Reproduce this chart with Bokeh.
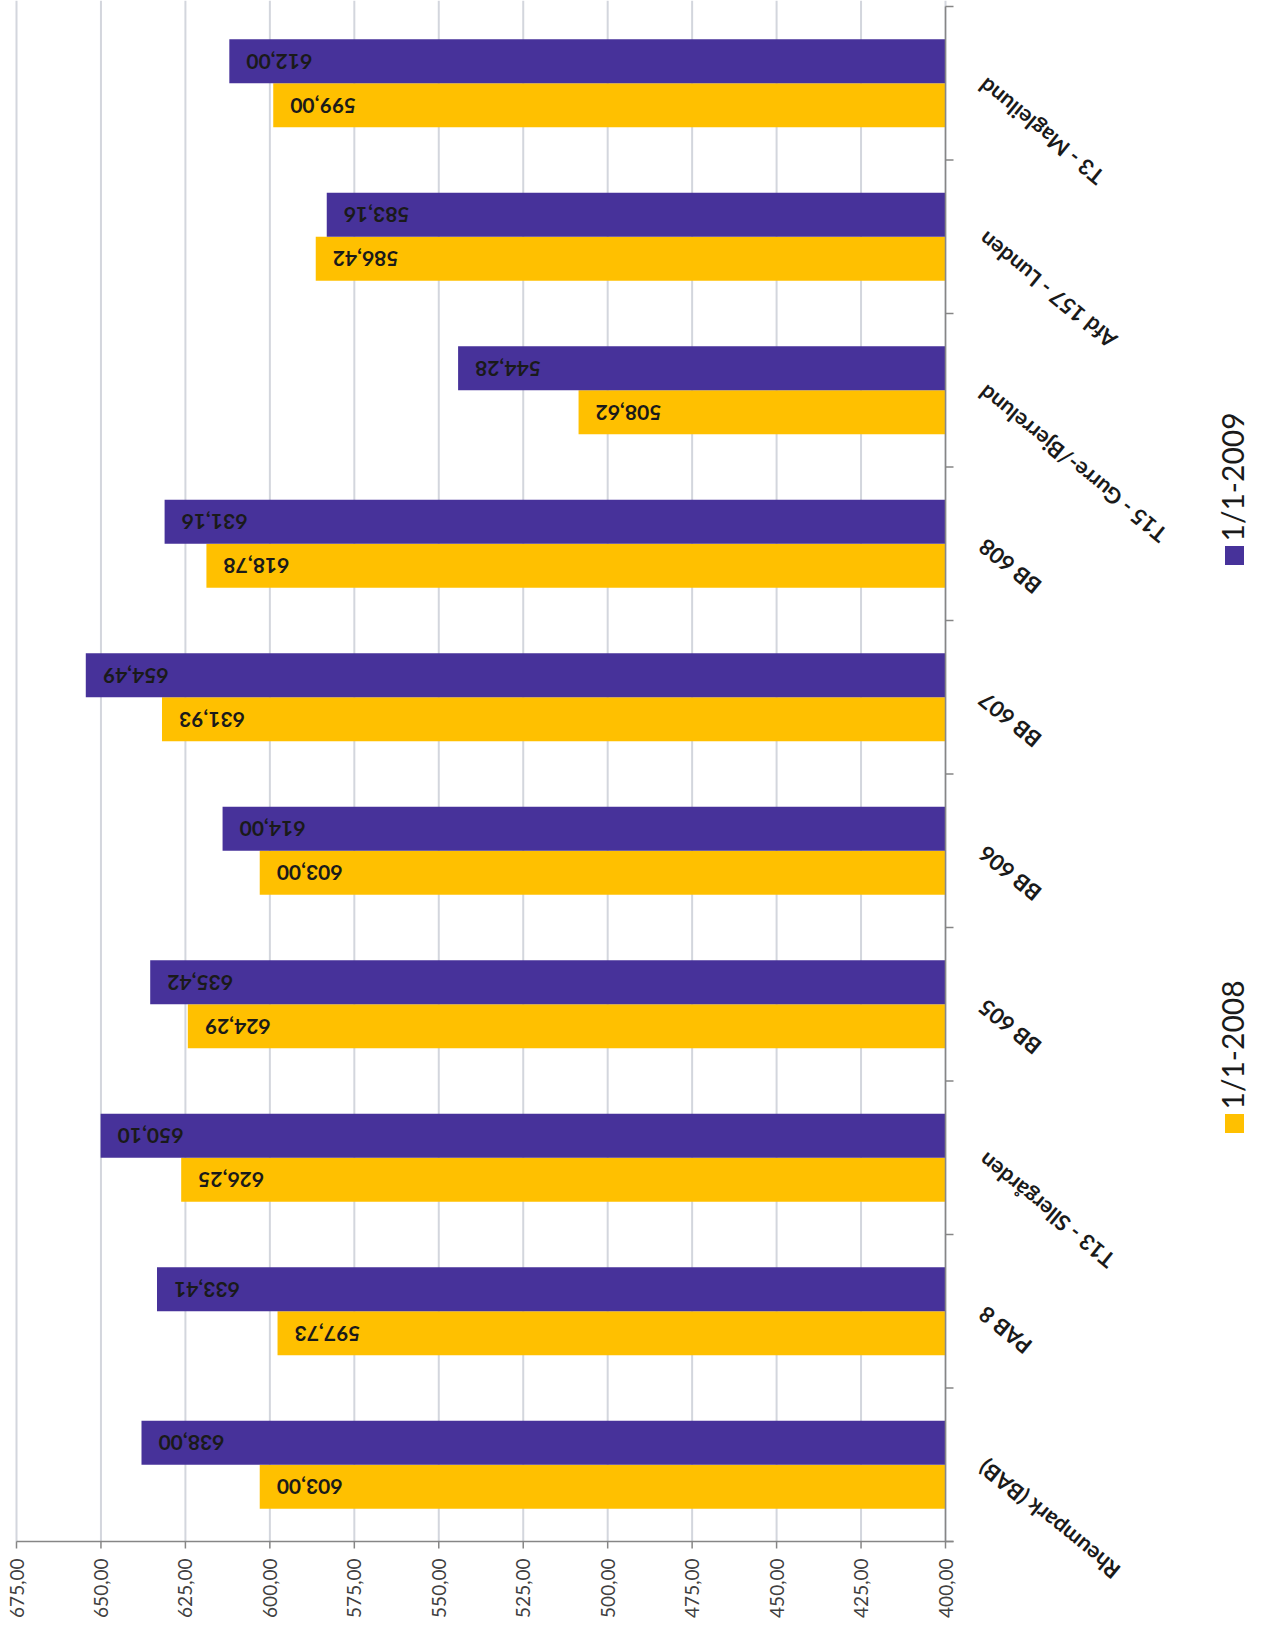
import math
from bokeh.plotting import figure
from bokeh.models import Range1d, ColumnDataSource
from bokeh.core.properties import value
from bokeh.embed import file_html
from bokeh.resources import INLINE

# ---------------- data ----------------
categories = ["Rheumpark (BAB)", "PAB 8", "T13 - Sllergården", "BB 605", "BB 606",
              "BB 607", "BB 608", "T15 - Gurre-/Bjerrelund", "Afd 157 - Lunden",
              "T3 - Magleilund"]
values_2008 = [603.00, 597.73, 626.25, 624.29, 603.00, 631.93, 618.78, 508.62, 586.42, 599.00]
values_2009 = [638.00, 633.41, 650.10, 635.42, 614.00, 654.49, 631.16, 544.28, 583.16, 612.00]
series_names = ["1/1-2008", "1/1-2009"]
x_ticks = [400, 425, 450, 475, 500, 525, 550, 575, 600, 625, 650, 675]
x_tick_labels = ["400,00", "425,00", "450,00", "475,00", "500,00", "525,00",
                 "550,00", "575,00", "600,00", "625,00", "650,00", "675,00"]

# ---------------- layout constants ----------------
COL_2008 = "#ffc000"
COL_2009 = "#47329a"
AXIS_COL = "#868686"
GRID_COL = "#d3d6dd"
TEXT_COL = "#1a1a1a"
FONT = "Lato"

W, H = 1250, 1619
PAGE = 8
PX_PER_UNIT = (953 - 24) / 275.0      # horizontal scale (px per value unit)
PX_PER_CAT = 153.5                    # vertical size of one category (px)
AXIS_PX_Y0 = 1549                     # page y of category-axis bottom

def px_to_x(px):
    return 675 - (px - 24) / PX_PER_UNIT

def px_to_y(py):
    return (AXIS_PX_Y0 - py) / PX_PER_CAT

x_start = px_to_x(PAGE)
x_end = px_to_x(PAGE + W)
y_start = px_to_y(PAGE + H)
y_end = px_to_y(PAGE)

n = len(categories)
centers = [i + 0.5 for i in range(n)]
BAR_H = 0.287
OFF = 0.1435

p = figure(width=W, height=H, x_range=Range1d(x_start, x_end),
           y_range=Range1d(y_start, y_end),
           output_backend="svg", toolbar_location=None,
           x_axis_location=None, y_axis_location=None,
           min_border=0, min_border_left=0, min_border_right=0,
           min_border_top=0, min_border_bottom=0)
p.outline_line_color = None
p.background_fill_color = "white"
p.border_fill_color = "white"
p.grid.visible = False

# vertical gridlines
p.segment(x0=x_ticks, y0=[0] * len(x_ticks), x1=x_ticks, y1=[y_end] * len(x_ticks),
          line_color=GRID_COL, line_width=2)

# bars
src = ColumnDataSource(dict(
    y08=[c - OFF for c in centers], y09=[c + OFF for c in centers],
    v08=values_2008, v09=values_2009,
    l08=[f"{v:.2f}".replace(".", ",") for v in values_2008],
    l09=[f"{v:.2f}".replace(".", ",") for v in values_2009],
))
p.hbar(y="y08", left=400, right="v08", height=BAR_H, source=src,
       fill_color=COL_2008, line_color=None)
p.hbar(y="y09", left=400, right="v09", height=BAR_H, source=src,
       fill_color=COL_2009, line_color=None)

for xcol, ycol, lcol in [("v08", "y08", "l08"), ("v09", "y09", "l09")]:
    p.text(x=xcol, y=ycol, text=lcol, source=src, x_offset=17, angle=math.pi,
           text_align="right", text_baseline="middle", text_font=value(FONT),
           text_font_style="bold", text_font_size="21px", text_color=TEXT_COL)

# value axis (bottom): line, ticks, rotated labels
tick_out = 7 / PX_PER_CAT
over = 8 / PX_PER_UNIT
p.segment(x0=[675], y0=[0], x1=[400 - over], y1=[0], line_color=AXIS_COL, line_width=1.5)
p.segment(x0=x_ticks, y0=[0] * len(x_ticks), x1=x_ticks, y1=[-tick_out] * len(x_ticks),
          line_color=AXIS_COL, line_width=1.5)
p.text(x=x_ticks, y=[-17 / PX_PER_CAT] * len(x_ticks), text=x_tick_labels,
       angle=math.pi / 2, text_align="right", text_baseline="middle",
       text_font=value(FONT), text_font_size="19px", text_color="#404040")

# category axis (at value 400): line, ticks between categories, rotated labels
bounds_y = list(range(n + 1))
p.segment(x0=[400], y0=[0], x1=[400], y1=[n], line_color=AXIS_COL, line_width=1.5)
p.segment(x0=[400] * len(bounds_y), y0=bounds_y, x1=[400 - over] * len(bounds_y),
          y1=bounds_y, line_color=AXIS_COL, line_width=1.5)
p.text(x=[400] * n, y=centers, text=categories, x_offset=36,
       angle=math.radians(141), text_align="right", text_baseline="middle",
       text_font=value(FONT), text_font_style="bold", text_font_size="22px",
       text_color=TEXT_COL)

# legend (rotated)
leg_x_text = px_to_x(1239)
leg_x_sw = px_to_x(1242)
p.scatter(x=[leg_x_sw, leg_x_sw], y=[px_to_y(563), px_to_y(1131)], marker="square",
          size=19, fill_color=[COL_2009, COL_2008], line_color=None)
p.text(x=[leg_x_text, leg_x_text], y=[px_to_y(549), px_to_y(1117)],
       text=[series_names[1], series_names[0]], angle=math.pi / 2,
       text_align="left", text_baseline="middle", text_font=value(FONT),
       text_font_size="30px", text_color=TEXT_COL)

open("out.html", "w").write(file_html(p, INLINE))
